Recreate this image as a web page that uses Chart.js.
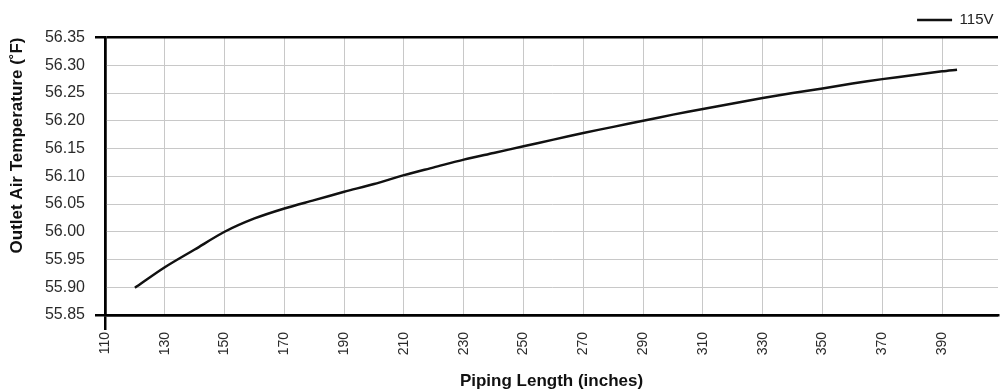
<!DOCTYPE html>
<html lang="en">
<head>
    <meta charset="UTF-8">
    <title>Outlet Air Temperature vs Piping Length</title>
    <script src="https://cdn.jsdelivr.net/npm/chart.js"></script>
    <style>
        body { margin: 0; background: #fff; }
        #wrap { width: 1000px; height: 392px; }
    </style>
</head>
<body>
    <div id="wrap"><canvas id="tempChart"></canvas></div>

    <script>
        // Piping length (inches)
        const pipingLength = [120, 130, 140, 150, 160, 170, 180, 190, 200, 210, 220, 230, 240, 250, 260,
                              270, 280, 290, 300, 310, 320, 330, 340, 350, 360, 370, 380, 390, 395];
        // Outlet air temperature (°F) at 115V
        const temp115V = [55.899, 55.936, 55.968, 56.000, 56.024, 56.042, 56.057, 56.072, 56.086, 56.102,
                          56.116, 56.130, 56.142, 56.154, 56.166, 56.178, 56.189, 56.200, 56.211, 56.221,
                          56.231, 56.241, 56.250, 56.258, 56.267, 56.275, 56.282, 56.289, 56.292];

        const xTicks = [110, 130, 150, 170, 190, 210, 230, 250, 270, 290, 310, 330, 350, 370, 390];
        const yTicks = [55.85, 55.90, 55.95, 56.00, 56.05, 56.10, 56.15, 56.20, 56.25, 56.30, 56.35];

        const isYEdge = v => v === yTicks[0] || v === yTicks[yTicks.length - 1];
        const isXEdge = v => v === xTicks[0];

        Chart.defaults.font.family = '"Liberation Sans", Arial, sans-serif';

        const ctx = document.getElementById('tempChart').getContext('2d');
        new Chart(ctx, {
            type: 'line',
            data: {
                datasets: [{
                    label: '115V',
                    data: pipingLength.map((x, i) => ({ x: x, y: temp115V[i] })),
                    borderColor: '#111',
                    backgroundColor: '#111',
                    borderWidth: 2.5,
                    pointRadius: 0,
                    tension: 0.3,
                    fill: false
                }]
            },
            options: {
                responsive: true,
                maintainAspectRatio: false,
                animation: false,
                layout: { padding: { top: 8, right: 2 } },
                plugins: {
                    tooltip: { enabled: false },
                    legend: {
                        position: 'top',
                        align: 'end',
                        labels: {
                            boxWidth: 35,
                            boxHeight: 0,
                            padding: 4.5,
                            color: '#222',
                            font: { size: 15 }
                        }
                    }
                },
                scales: {
                    x: {
                        type: 'linear',
                        min: 110,
                        max: 408.7,
                        afterBuildTicks: axis => { axis.ticks = xTicks.map(v => ({ value: v })); },
                        afterFit: scale => { scale.height = 77; },
                        ticks: {
                            minRotation: 90,
                            maxRotation: 90,
                            padding: 2,
                            color: '#2a2a2a',
                            font: { size: 14 }
                        },
                        grid: {
                            color: c => isXEdge(c.tick.value) ? '#000' : '#c8c8c8',
                            lineWidth: c => isXEdge(c.tick.value) ? 2.5 : 1,
                            tickColor: c => isXEdge(c.tick.value) ? '#000' : 'rgba(0,0,0,0)',
                            tickLength: 15
                        },
                        border: { color: '#000', width: 2.5 },
                        title: {
                            display: true,
                            text: 'Piping Length (inches)',
                            color: '#111',
                            font: { size: 17, weight: 'bold' },
                            padding: { top: 4, bottom: 0 }
                        }
                    },
                    y: {
                        min: 55.85,
                        max: 56.35,
                        afterBuildTicks: axis => { axis.ticks = yTicks.map(v => ({ value: v })); },
                        afterFit: scale => { scale.width = 105; },
                        ticks: {
                            padding: 10,
                            color: '#2a2a2a',
                            font: { size: 16 },
                            callback: v => v.toFixed(2)
                        },
                        grid: {
                            color: c => isYEdge(c.tick.value) ? '#000' : '#c8c8c8',
                            lineWidth: c => isYEdge(c.tick.value) ? 2.5 : 1,
                            tickColor: c => isYEdge(c.tick.value) ? '#000' : 'rgba(0,0,0,0)',
                            tickLength: 10
                        },
                        border: { color: '#000', width: 2.5 },
                        title: {
                            display: true,
                            text: 'Outlet Air Temperature (˚F)',
                            align: 'end',
                            color: '#111',
                            font: { size: 17, weight: 'bold' },
                            padding: { top: 7, bottom: 4 }
                        }
                    }
                }
            }
        });
    </script>
</body>
</html>
